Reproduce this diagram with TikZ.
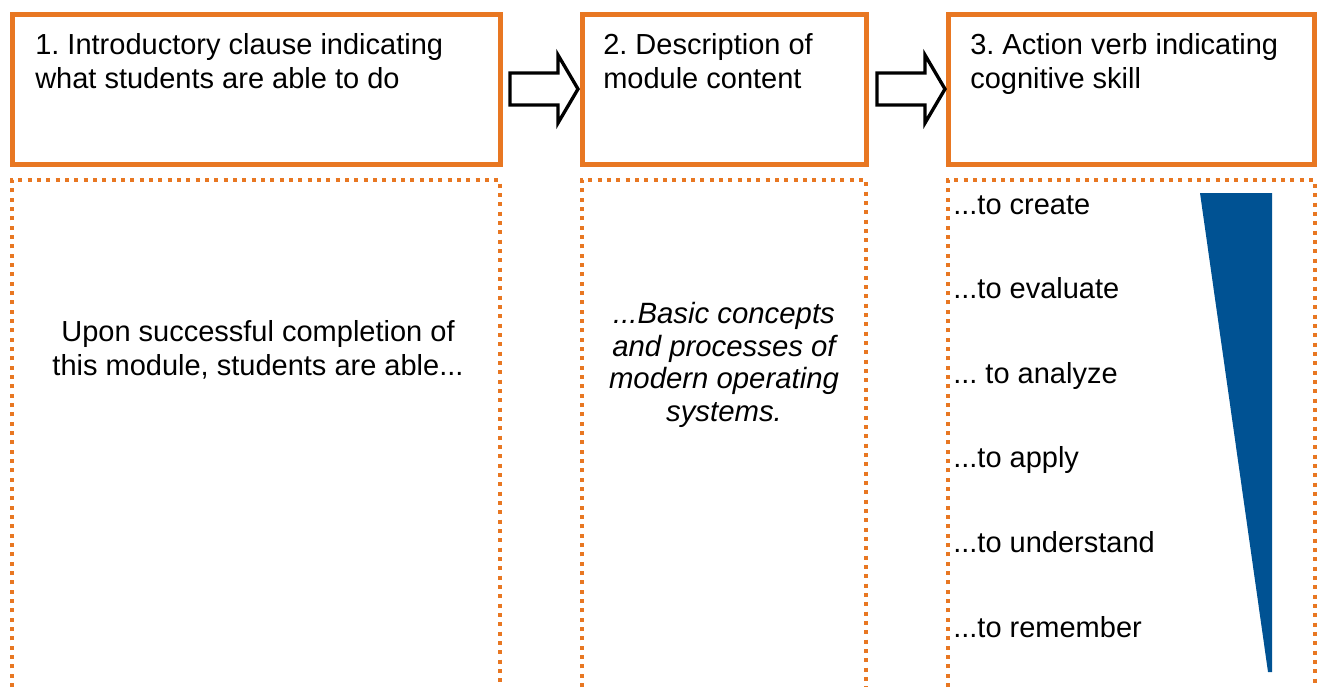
\documentclass[tikz,border=0pt]{standalone}
\usepackage{fontspec}
\setmainfont{Liberation Sans}
\definecolor{boxorange}{RGB}{232,119,34}
\definecolor{wedgeblue}{RGB}{0,82,147}
\newcommand\verbdots{...}
\frenchspacing

\begin{document}
\begin{tikzpicture}[x=0.75pt,y=-0.75pt,
  headbox/.style={draw=boxorange,line width=3.75pt},
  notebox/.style={draw=boxorange,line width=3pt,dash pattern=on 3pt off 4pt},
  boxtext/.style={inner sep=0pt,font=\fontsize{21.75}{26}\selectfont},
  blockarrow/.style={draw=black,line width=2.5pt,fill=white,line join=miter}]
\useasboundingbox (0,0) rectangle (1321,687);
% headings
\draw[headbox] (12,14.5) rectangle (500,164.5);
\draw[headbox] (582,14.5) rectangle (866,164.5);
\draw[headbox] (948,14.5) rectangle (1314.5,164.5);
\node[boxtext,anchor=north west,align=left] (intro) at (35,33) {1. Introductory clause indicating\\what students are able to do};
\node[boxtext,anchor=north west,align=left] (content) at (603,33) {2. Description of\\module content};
\node[boxtext,anchor=north west,align=left] (action) at (970,33) {3. Action verb indicating\\cognitive skill};
% arrows
\foreach \x in {510,877}{
  \draw[blockarrow] (\x,73) -- ++(48,0) -- ++(0,-18) -- ++(20,34) -- ++(-20,34) -- ++(0,-18) -- ++(-48,0) -- cycle;
}
% dotted columns
\draw[notebox] (12,687) -- (12,180) -- (500,180) -- (500,687);
\draw[notebox] (582,687) -- (582,180) -- (866,180) -- (866,687);
\draw[notebox] (948,687) -- (948,180) -- (1314.5,180) -- (1314.5,687);
\node[boxtext,anchor=north,align=center] (upon) at (258,320) {Upon successful completion of\\this module, students are able...};
\node[boxtext,anchor=north,align=center,font=\fontsize{22}{24.5}\selectfont\itshape] (basics) at (724,302) {...Basic concepts\\and processes of\\modern operating\\systems.};
% wedge
\fill[wedgeblue] (1200,193) -- (1272,193) -- (1272,672) -- (1268,672) -- cycle;
%verbs
\foreach \word [count=\i from 0] in {to create,to evaluate,{\ to analyze},to apply,to understand,to remember}{
  \node[boxtext,anchor=base west] (verb\i) at (953,{214+84.6*\i}) {\verbdots\word};
}
\end{tikzpicture}
\end{document}
